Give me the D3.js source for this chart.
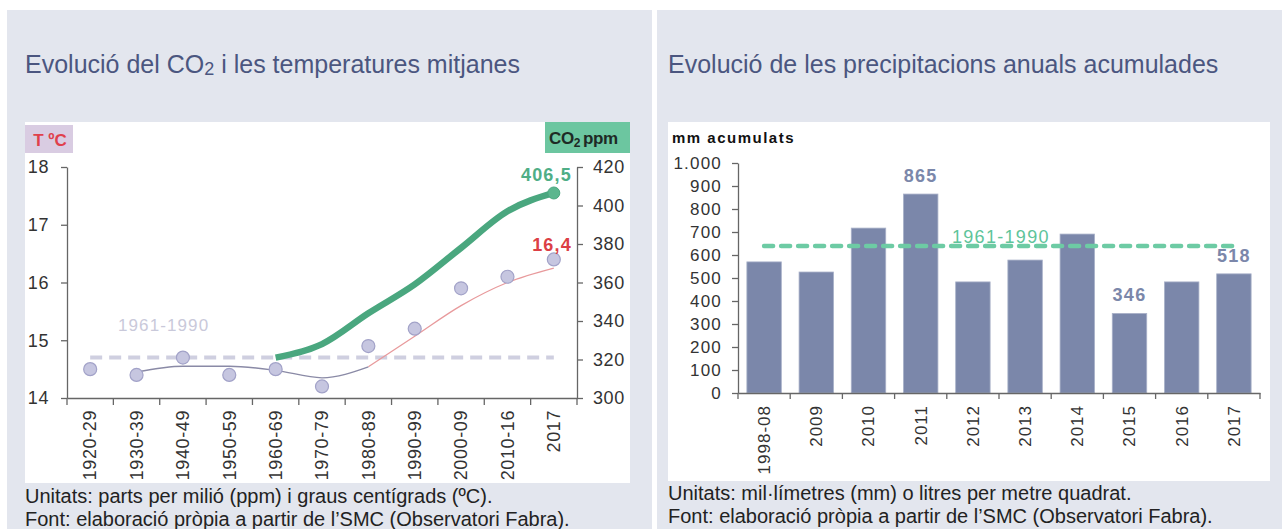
<!DOCTYPE html>
<html>
<head>
<meta charset="utf-8">
<script src="https://d3js.org/d3.v7.min.js"></script>
<style>
  body { margin: 0; background: #fff; }
  svg { display: block; font-family: "Liberation Sans", Arial, sans-serif; }
  .axis path, .axis line { stroke: #666; stroke-width: 1.3; }
  .axis text { fill: #333; }
</style>
</head>
<body>
<script>

// ---- data: left chart (CO2 and mean temperature)
var periods = ["1920-29", "1930-39", "1940-49", "1950-59", "1960-69", "1970-79",
               "1980-89", "1990-99", "2000-09", "2010-16", "2017"];
var tempMean  = [14.5, 14.4, 14.7, 14.4, 14.5, 14.2, 14.9, 15.2, 15.9, 16.1, 16.4];
var tempTrend = [null, 14.45, 14.55, 14.55, 14.48, 14.35, 14.54, 15.07, 15.6, 16.0, 16.25];
var co2       = [null, null, null, null, 321, 328, 344, 359, 378, 397, 406.5];
var tempRef = 14.7;
var tempTicks = [14, 15, 16, 17, 18];
var co2Ticks = [300, 320, 340, 360, 380, 400, 420];

// ---- data: right chart (annual precipitation)
var years  = ["1998-08", "2009", "2010", "2011", "2012", "2013", "2014", "2015", "2016", "2017"];
var precip = [570, 526, 717, 865, 483, 578, 691, 346, 483, 518];
var labelledYears = ["2011", "2015", "2017"];
var precipRef = 639;
var precipTicks = [0, 100, 200, 300, 400, 500, 600, 700, 800, 900, 1000];

var ca = d3.formatLocale({decimal: ",", thousands: ".", grouping: [3], currency: ["", " €"]});
var fmtInt = ca.format(",");
var fmtDec = ca.format(",.1f");

var svg = d3.select("body").append("svg")
    .attr("width", 1282)
    .attr("height", 529);

// page background / panels
svg.append("rect").attr("width", 1282).attr("height", 529).attr("fill", "#fff");
svg.append("rect").attr("x", 7).attr("y", 10).attr("width", 645).attr("height", 519).attr("fill", "#e3e6ee");
svg.append("rect").attr("x", 657).attr("y", 10).attr("width", 625).attr("height", 519).attr("fill", "#e3e6ee");

// titles
var t1 = svg.append("text").attr("x", 25).attr("y", 73)
    .attr("font-size", 25).attr("fill", "#4b5680");
t1.append("tspan").text("Evolució del CO");
t1.append("tspan").attr("font-size", 18).attr("dy", 2).text("2");
t1.append("tspan").attr("dy", -2).text(" i les temperatures mitjanes");

svg.append("text").attr("x", 668).attr("y", 73)
    .attr("font-size", 25).attr("fill", "#4b5680")
    .text("Evolució de les precipitacions anuals acumulades");

/////////////////////////  left chart

svg.append("rect").attr("x", 25).attr("y", 122).attr("width", 605).attr("height", 361)
    .attr("fill", "#fff");

var xL = d3.scaleBand().domain(periods).range([67, 577]);
var yT = d3.scaleLinear().domain([14, 18]).range([398, 167]);
var yC = d3.scaleLinear().domain([300, 420]).range([398, 167]);
var cx = function(p) { return xL(p) + xL.bandwidth() / 2; };

// unit boxes
svg.append("rect").attr("x", 25).attr("y", 125).attr("width", 48).attr("height", 28).attr("fill", "#d9cce2");
svg.append("text").attr("x", 50).attr("y", 146).attr("text-anchor", "middle")
    .attr("font-size", 17).attr("font-weight", "bold").attr("fill", "#e0404c").text("T ºC");

svg.append("rect").attr("x", 545).attr("y", 122).attr("width", 85).attr("height", 31).attr("fill", "#6cc6a0");
var cLab = svg.append("text").attr("x", 549).attr("y", 144)
    .attr("font-size", 17).attr("font-weight", "bold").attr("fill", "#1e2a25").attr("letter-spacing", -0.4);
cLab.append("tspan").text("CO");
cLab.append("tspan").attr("font-size", 12).attr("dy", 3).text("2");
cLab.append("tspan").attr("dy", -3).attr("dx", 3).text("ppm");

// axes
var axL = svg.append("g").attr("class", "axis")
    .attr("transform", "translate(67,0)")
    .call(d3.axisLeft(yT).tickValues(tempTicks).tickFormat(d3.format("d"))
        .tickSize(6).tickSizeOuter(0).tickPadding(12));
axL.selectAll("text").attr("font-size", 18).attr("letter-spacing", 0.6);

var axR = svg.append("g").attr("class", "axis")
    .attr("transform", "translate(577,0)")
    .call(d3.axisRight(yC).tickValues(co2Ticks).tickSize(6).tickSizeOuter(0).tickPadding(10));
axR.selectAll("text").attr("font-size", 18).attr("letter-spacing", 0.6);

var axB = svg.append("g").attr("class", "axis")
    .attr("transform", "translate(0,398)")
    .call(d3.axisBottom(xL).tickSize(0).tickSizeOuter(0));
axB.selectAll("text")
    .attr("font-size", 18).attr("letter-spacing", 0.6)
    .attr("transform", "rotate(-90)")
    .attr("x", -12).attr("y", 0).attr("dy", "0.35em")
    .style("text-anchor", "end");
// boundary ticks between the periods
axB.selectAll(".bound").data(d3.range(periods.length + 1)).enter().append("line")
    .attr("class", "bound")
    .attr("x1", function(i) { return 67 + i * xL.step(); })
    .attr("x2", function(i) { return 67 + i * xL.step(); })
    .attr("y1", 0).attr("y2", 7);

// 1961-1990 reference
svg.append("line")
    .attr("x1", cx(periods[0])).attr("x2", cx(periods[periods.length - 1]))
    .attr("y1", yT(tempRef)).attr("y2", yT(tempRef))
    .attr("stroke", "#cfcfe0").attr("stroke-width", 4).attr("stroke-dasharray", "12,7");
svg.append("text").attr("x", 118).attr("y", 331)
    .attr("font-size", 17).attr("letter-spacing", 1.1).attr("fill", "#c9c9da").text("1961-1990");

// temperature trend
var trendPts = periods.map(function(p, i) { return [cx(p), tempTrend[i]]; })
    .filter(function(d) { return d[1] != null; });
var trendLine = d3.line().x(function(d) { return d[0]; }).y(function(d) { return yT(d[1]); })
    .curve(d3.curveMonotoneX);
svg.append("path").datum(trendPts.slice(5)).attr("d", trendLine)
    .attr("fill", "none").attr("stroke", "#e89a9c").attr("stroke-width", 1.3);
svg.append("path").datum(trendPts.slice(0, 6)).attr("d", trendLine)
    .attr("fill", "none").attr("stroke", "#8a8aa6").attr("stroke-width", 1.3);

// CO2 line
var co2Pts = periods.map(function(p, i) { return [cx(p), co2[i]]; })
    .filter(function(d) { return d[1] != null; });
svg.append("path").datum(co2Pts)
    .attr("d", d3.line().x(function(d) { return d[0]; }).y(function(d) { return yC(d[1]); })
        .curve(d3.curveMonotoneX))
    .attr("fill", "none").attr("stroke", "#4aa77f").attr("stroke-width", 6.5);
var lastC = co2Pts[co2Pts.length - 1];
svg.append("circle").attr("cx", lastC[0]).attr("cy", yC(lastC[1])).attr("r", 6)
    .attr("fill", "#5bb68e").attr("stroke", "#4aa77f");

// temperature points
svg.selectAll(".tp").data(periods).enter().append("circle")
    .attr("class", "tp")
    .attr("cx", cx)
    .attr("cy", function(p, i) { return yT(tempMean[i]); })
    .attr("r", 6.5)
    .attr("fill", "#c6c6e0").attr("stroke", "#a2a2c8").attr("stroke-width", 1.2);

// end labels
svg.append("text").attr("x", 572).attr("y", 181).attr("text-anchor", "end")
    .attr("font-size", 18).attr("font-weight", "bold").attr("letter-spacing", 1.2)
    .attr("fill", "#4fae86").text(fmtDec(lastC[1]));
svg.append("text").attr("x", 572).attr("y", 251).attr("text-anchor", "end")
    .attr("font-size", 18).attr("font-weight", "bold").attr("letter-spacing", 1.2)
    .attr("fill", "#dc3f45").text(fmtDec(tempMean[tempMean.length - 1]));

// notes
svg.append("text").attr("x", 25).attr("y", 503).attr("font-size", 20).attr("fill", "#222")
    .text("Unitats: parts per milió (ppm) i graus centígrads (ºC).");
svg.append("text").attr("x", 25).attr("y", 526).attr("font-size", 20).attr("fill", "#222")
    .text("Font: elaboració pròpia a partir de l’SMC (Observatori Fabra).");

/////////////////////////  right chart

svg.append("rect").attr("x", 668).attr("y", 122).attr("width", 602).attr("height", 359)
    .attr("fill", "#fff");

var xR = d3.scaleBand().domain(years).range([738, 1260]).paddingInner(0.34).paddingOuter(0.17);
var xRs = d3.scaleBand().domain(years).range([738, 1260]);
var yP = d3.scaleLinear().domain([0, 1000]).range([393, 163]);

svg.append("text").attr("x", 672).attr("y", 143)
    .attr("font-size", 15).attr("font-weight", "bold").attr("letter-spacing", 1.5).attr("fill", "#111")
    .text("mm acumulats");

svg.selectAll(".bar").data(years).enter().append("rect")
    .attr("class", "bar")
    .attr("x", function(y) { return xR(y); })
    .attr("width", xR.bandwidth())
    .attr("y", function(y, i) { return yP(precip[i]); })
    .attr("height", function(y, i) { return yP(0) - yP(precip[i]); })
    .attr("fill", "#7b87aa").attr("stroke", "#a9b1c9").attr("stroke-width", 0.8);

var axP = svg.append("g").attr("class", "axis")
    .attr("transform", "translate(738,0)")
    .call(d3.axisLeft(yP).tickValues(precipTicks).tickFormat(fmtInt).tickSize(6).tickSizeOuter(0).tickPadding(10));
axP.selectAll("text").attr("font-size", 17).attr("letter-spacing", 1.2).attr("fill", "#111");

var axY = svg.append("g").attr("class", "axis")
    .attr("transform", "translate(0,393)")
    .call(d3.axisBottom(xRs).tickSize(0).tickSizeOuter(0));
axY.selectAll("text")
    .attr("font-size", 17).attr("letter-spacing", 1).attr("fill", "#111")
    .attr("transform", "rotate(-90)")
    .attr("x", -12).attr("y", 0).attr("dy", "0.35em")
    .style("text-anchor", "end");
axY.selectAll(".bound").data(d3.range(years.length + 1)).enter().append("line")
    .attr("class", "bound")
    .attr("x1", function(i) { return 738 + i * xRs.step(); })
    .attr("x2", function(i) { return 738 + i * xRs.step(); })
    .attr("y1", 0).attr("y2", 6);

svg.append("line")
    .attr("x1", xRs(years[0]) + xRs.bandwidth() / 2)
    .attr("x2", xRs(years[years.length - 1]) + xRs.bandwidth() / 2)
    .attr("y1", yP(precipRef)).attr("y2", yP(precipRef))
    .attr("stroke", "#6dcba4").attr("stroke-width", 4.5)
    .attr("stroke-dasharray", "9,8").attr("stroke-linecap", "round");
svg.append("text").attr("x", 952).attr("y", 243)
    .attr("font-size", 18).attr("letter-spacing", 1.3).attr("fill", "#5ec49a").text("1961-1990");

svg.selectAll(".blab").data(years.filter(function(y) { return labelledYears.indexOf(y) >= 0; }))
  .enter().append("text")
    .attr("class", "blab")
    .attr("x", function(y) { return xRs(y) + xRs.bandwidth() / 2; })
    .attr("y", function(y) { return yP(precip[years.indexOf(y)]) - 12; })
    .attr("text-anchor", "middle")
    .attr("font-size", 18).attr("font-weight", "bold").attr("letter-spacing", 1.3)
    .attr("fill", "#7b87aa")
    .text(function(y) { return fmtInt(precip[years.indexOf(y)]); });

svg.append("text").attr("x", 668).attr("y", 500).attr("font-size", 20).attr("fill", "#222")
    .text("Unitats: mil·límetres (mm) o litres per metre quadrat.");
svg.append("text").attr("x", 668).attr("y", 523).attr("font-size", 20).attr("fill", "#222")
    .text("Font: elaboració pròpia a partir de l’SMC (Observatori Fabra).");

</script>
</body>
</html>
